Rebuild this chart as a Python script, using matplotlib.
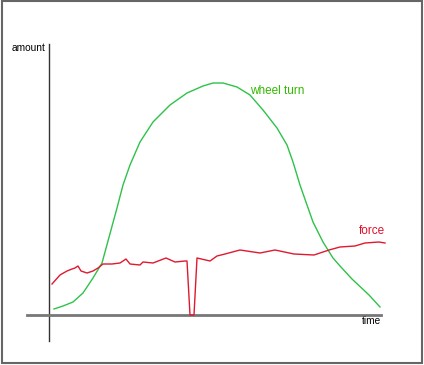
import matplotlib
matplotlib.use("Agg")
import matplotlib.pyplot as plt
from matplotlib.patches import Rectangle

plt.rcParams['font.family'] = ['Liberation Sans', 'DejaVu Sans']

# wheel turn (time, amount)
wheel_t = [5, 14, 24, 34, 44, 53, 59, 68, 74, 81, 91, 104, 121, 138, 154, 164,
           174, 188, 201, 214, 228, 238, 244, 251, 258, 264, 274, 284, 291,
           303, 320, 331]
wheel_a = [6, 9, 13, 22, 37, 52, 74, 107, 130, 150, 173, 193, 210, 222, 229,
           232, 232, 228, 220, 205, 187, 170, 153, 130, 110, 93, 73, 57, 49,
           36, 20, 8]

# force (time, amount)
force_t = [3, 11, 18, 23, 26, 29, 32, 38, 44, 49, 54, 63, 71, 77, 81, 91, 94,
           104, 117, 126, 136, 138, 141, 145, 148, 161, 168, 176, 191, 211,
           226, 245, 265, 280, 291, 306, 316, 330, 336]
force_a = [31, 40, 44, 46, 47, 49, 44, 42, 44, 47, 51, 51, 52, 56, 51, 50, 53,
           52, 57, 53, 54, 54, 0, 0, 57, 54, 59, 61, 65, 62,
           65, 61, 60, 65, 68, 69, 72, 73, 72]

fig = plt.figure(figsize=(4.24, 3.65), dpi=100)
ax = fig.add_axes([0, 0, 1, 1])
ax.set_xlim(-49, 375)
ax.set_ylim(-50, 315)
ax.axis('off')

# axes lines
ax.plot([0, 0], [-26, 271], color='#333333', lw=1.0)
ax.plot([-22, 332], [0, 0], color='#777777', lw=2.0)

ax.plot(wheel_t, wheel_a, color='#2ec24a', lw=1.0)
ax.plot(force_t, force_a, color='#e0192e', lw=1.0)

ax.text(-3, 267, 'amount', ha='right', va='center', fontsize=7.3, color='black')
ax.text(332, -6, 'time', ha='right', va='center', fontsize=7.3, color='black')
ax.text(201, 224, 'wheel turn', ha='left', va='center', fontsize=8.5, color='#33b800')
ax.text(310, 84, 'force', ha='left', va='center', fontsize=8.5, color='#e0102a')

# frame around picture
fig.add_artist(Rectangle((1.5 / 424, 2 / 365), 420 / 424, 362 / 365,
                         transform=fig.transFigure, fill=False,
                         edgecolor='#666666', lw=1.5))

fig.savefig('out.png', dpi=100)
